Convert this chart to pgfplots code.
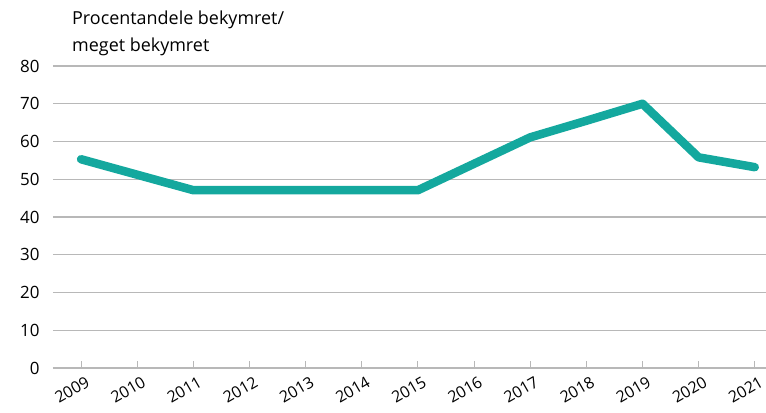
\documentclass[border=0pt]{standalone}
\usepackage{fontspec}
\setmainfont{Open Sans}
\usepackage{pgfplots}
\pgfplotsset{compat=1.18}
\definecolor{teal1}{HTML}{14A89E}
\definecolor{gridg}{HTML}{B8B8B8}
\begin{document}
\begin{tikzpicture}
\path[use as bounding box] (-53bp,-45bp) rectangle (713bp,368bp);
\begin{axis}[
  at={(0,0)}, anchor=south west,
  scale only axis,
  width=713bp, height=302bp,
  xmin=2008.5, xmax=2021.2,
  ymin=0, ymax=80,
  ytick={0,10,...,80},
  xtick={2009,...,2021},
  /pgf/number format/assume math mode=true,
  /pgf/number format/1000 sep={},
  axis x line*=bottom,
  axis y line*=left,
  x axis line style={gridg, line width=1.3bp},
  y axis line style={draw=none},
  ymajorgrids,
  grid style={gridg, line width=1.3bp},
  tick align=inside,
  major tick length=7bp,
  xtick style={gridg, line width=1bp},
  ytick style={draw=none},
  yticklabel style={font=\fontsize{17}{20}\selectfont, anchor=east, xshift=-10bp},
  xticklabel style={font=\fontsize{16}{19}\selectfont, rotate=30, anchor=north east, xshift=3bp, yshift=-5bp},
  clip=false,
]
\addplot[teal1, line width=8.5bp, line join=round, line cap=round] coordinates {
(2009,55.3) (2010,51.2) (2011,47.1) (2012,47.1) (2013,47.1) (2014,47.1) (2015,47.1)
(2016,54.1) (2017,61.1) (2018,65.5) (2019,70) (2020,55.8) (2021,53.2)
};
\end{axis}
\node[anchor=north west, align=left, font=\fontsize{18}{27}\selectfont, inner sep=0pt] at (19bp,357bp) {Procentandele bekymret/\\meget bekymret};
\end{tikzpicture}
\end{document}
